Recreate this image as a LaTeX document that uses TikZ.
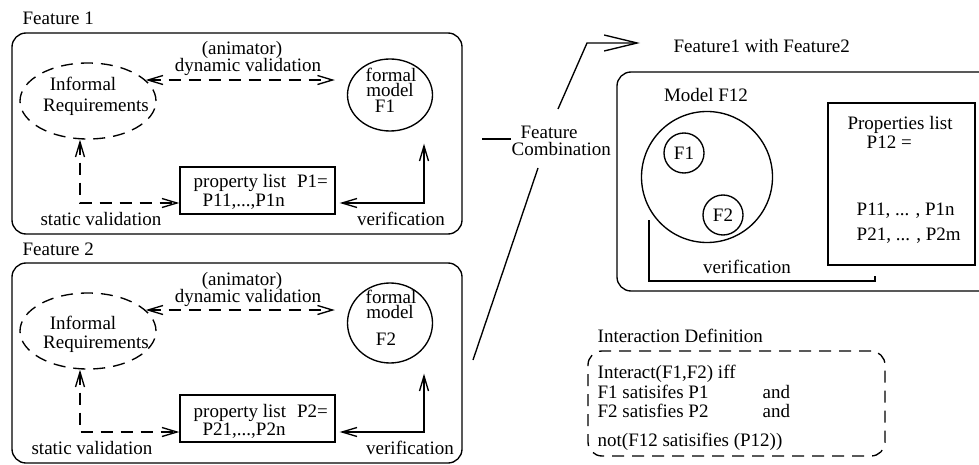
\documentclass[tikz,border=0pt]{standalone}
\usepackage{fontspec}
\setmainfont{Liberation Serif}
\usetikzlibrary{arrows.meta,shapes.geometric}

\begin{document}
\begin{tikzpicture}[x=1pt, y=-1pt, line width=1.35pt,
	every node/.style={inner sep=0pt, font=\fontsize{19}{15}\selectfont},
	lbl/.style={anchor=base},
	lblw/.style={anchor=base west},
	featbox/.style={draw, rounded corners=14pt},
	dsh/.style={dash pattern=on 12pt off 8pt},
	barbs/.style={{Straight Barb[length=15pt,width=9pt]}-{Straight Barb[length=15pt,width=9pt]}},
	bigbarb/.style={-{Straight Barb[length=33pt,width=16pt]}},
	]
	\useasboundingbox (0,0) rectangle (979,465);

	\node[lblw] (t1) at (22,25) {Feature 1};
	\node[featbox, minimum width=450pt, minimum height=201pt] (b1) at (237,133.5) {};
	\node[lbl] (an1) at (242,55) {(animator)};
	\node[lbl] (dv1) at (248,72) {dynamic validation};
	\node[draw, ellipse, dsh, minimum width=136pt, minimum height=76pt] (req1) at (88,101) {};
	\node[lbl] (ir1) at (83,91) {Informal};
	\node[lbl] (rq1) at (96,112) {Requirements};
	\node[draw, ellipse, minimum width=85pt, minimum height=72pt] (fm1) at (390,95) {};
	\node[lbl] (fo1) at (391,82) {formal};
	\node[lbl] (mo1) at (390,97) {model};
	\node[lbl] (ff1) at (385,113) {F1};
	\node[draw, minimum width=155pt, minimum height=47pt] (pl1) at (257.5,190.5) {};
	\node[lblw] (pa1) at (193,188) {property list\hspace{11pt}P1=};
	\node[lblw] (pb1) at (202,206) {P11,...,P1n};
	\node[lbl] (sv1) at (101,225) {static validation};
	\node[lbl] (ve1) at (401,225) {verification};
	\coordinate (s1) at (80,203);
	\coordinate (v1) at (424,203);
	\draw[barbs, dsh, shorten >=12pt] (req1.20) -- (req1.20 -| fm1.west);
	\draw[barbs, dsh] (req1.south -| s1) -- (s1) -- (s1 -| pl1.west);
	\draw[barbs, shorten <=4pt] (v1 -| pl1.east) -- (v1) -- ([yshift=-12pt]v1 |- fm1.south);

	\node[lblw] (t2) at (22,255) {Feature 2};
	\node[featbox, minimum width=450pt, minimum height=200pt] (b2) at (237,363) {};
	\node[lbl] (an2) at (242,285) {(animator)};
	\node[lbl] (dv2) at (248,302) {dynamic validation};
	\node[draw, ellipse, dsh, minimum width=136pt, minimum height=76pt] (req2) at (88,331) {};
	\node[lbl] (ir2) at (83,329) {Informal};
	\node[lbl] (rq2) at (96,348) {Requirements};
	\node[draw, ellipse, minimum width=85pt, minimum height=80pt] (fm2) at (390,323) {};
	\node[lbl] (fo2) at (391,303) {formal};
	\node[lbl] (mo2) at (390,318) {model};
	\node[lbl] (ff2) at (386,345) {F2};
	\node[draw, minimum width=155pt, minimum height=47pt] (pl2) at (257.5,418.5) {};
	\node[lblw] (pa2) at (193,417) {property list\hspace{11pt}P2=};
	\node[lblw] (pb2) at (202,435) {P21,...,P2n};
	\node[lbl] (sv2) at (92,454) {static validation};
	\node[lbl] (ve2) at (410,454) {verification};
	\coordinate (s2) at (80,432);
	\coordinate (v2) at (424,432);
	\draw[barbs, dsh, shorten >=12pt] (req2.20) -- (req2.20 -| fm2.west);
	\draw[barbs, dsh] (req2.south -| s2) -- (s2) -- (s2 -| pl2.west);
	\draw[barbs, shorten <=4pt] (v2 -| pl2.east) -- (v2) -- ([yshift=-10pt]v2 |- fm2.south);

	\node[lblw] (fc1) at (520,139) {Feature};
	\node[lblw] (fc2) at (511,156) {Combination};
	\coordinate (cin) at (482,139);
	\coordinate (cu1) at (558,109);
	\coordinate (cu2) at (587,43);
	\coordinate (cu3) at (640,43);
	\coordinate (cl1) at (538,168);
	\coordinate (cl2) at (473,360);
	\draw (cin) -- (cin -| fc2.base west);
	\draw[bigbarb] (cu1) -- (cu2) -- (cu3);
	\draw (cl1) -- (cl2);

	\node[lblw] (fw) at (673,53) {Feature1 with Feature2};
	\node[featbox, minimum width=440pt, minimum height=219pt] (b3) at (837,181.5) {};
	\node[lbl] (mt) at (706,102) {Model F12};
	\node[draw, circle, minimum size=131pt] (mf) at (707,177) {};
	\node[draw, circle, minimum size=40pt] (c1) at (684,153) {F1};
	\node[draw, circle, minimum size=40pt] (c2) at (723,215) {F2};
	\node[draw, minimum width=147pt, minimum height=162pt] (pr) at (901.5,184) {};
	\node[lbl] (pt) at (900,130) {Properties list};
	\node[lblw] (p0) at (866,149) {P12 =};
	\node[lblw] (p1) at (856,215) {P11, ... , P1n};
	\node[lblw] (p2) at (856,240) {P21, ... , P2m};
	\node[lbl] (vt) at (747,273) {verification};
	\coordinate (vb1) at (649,220);
	\coordinate (vb2) at (875,276);
	\draw (vb1) -- ++(0,61) -| (vb2);

	\node[lblw] (it) at (597,342) {Interaction Definition};
	\node[draw, dsh, rounded corners=14pt, minimum width=297pt, minimum height=105pt] (ib) at (736.5,403.5) {};
	\node[lblw] (i1) at (597,378) {Interact(F1,F2) iff};
	\node[lblw] (i2) at (597,398) {F1 satisifes P1};
	\node[lblw] (a2) at (762,398) {and};
	\node[lblw] (i3) at (597,417) {F2 satisfies P2};
	\node[lblw] (a3) at (762,417) {and};
	\node[lblw] (i4) at (597,446) {not(F12 satisifies (P12))};
\end{tikzpicture}
\end{document}
